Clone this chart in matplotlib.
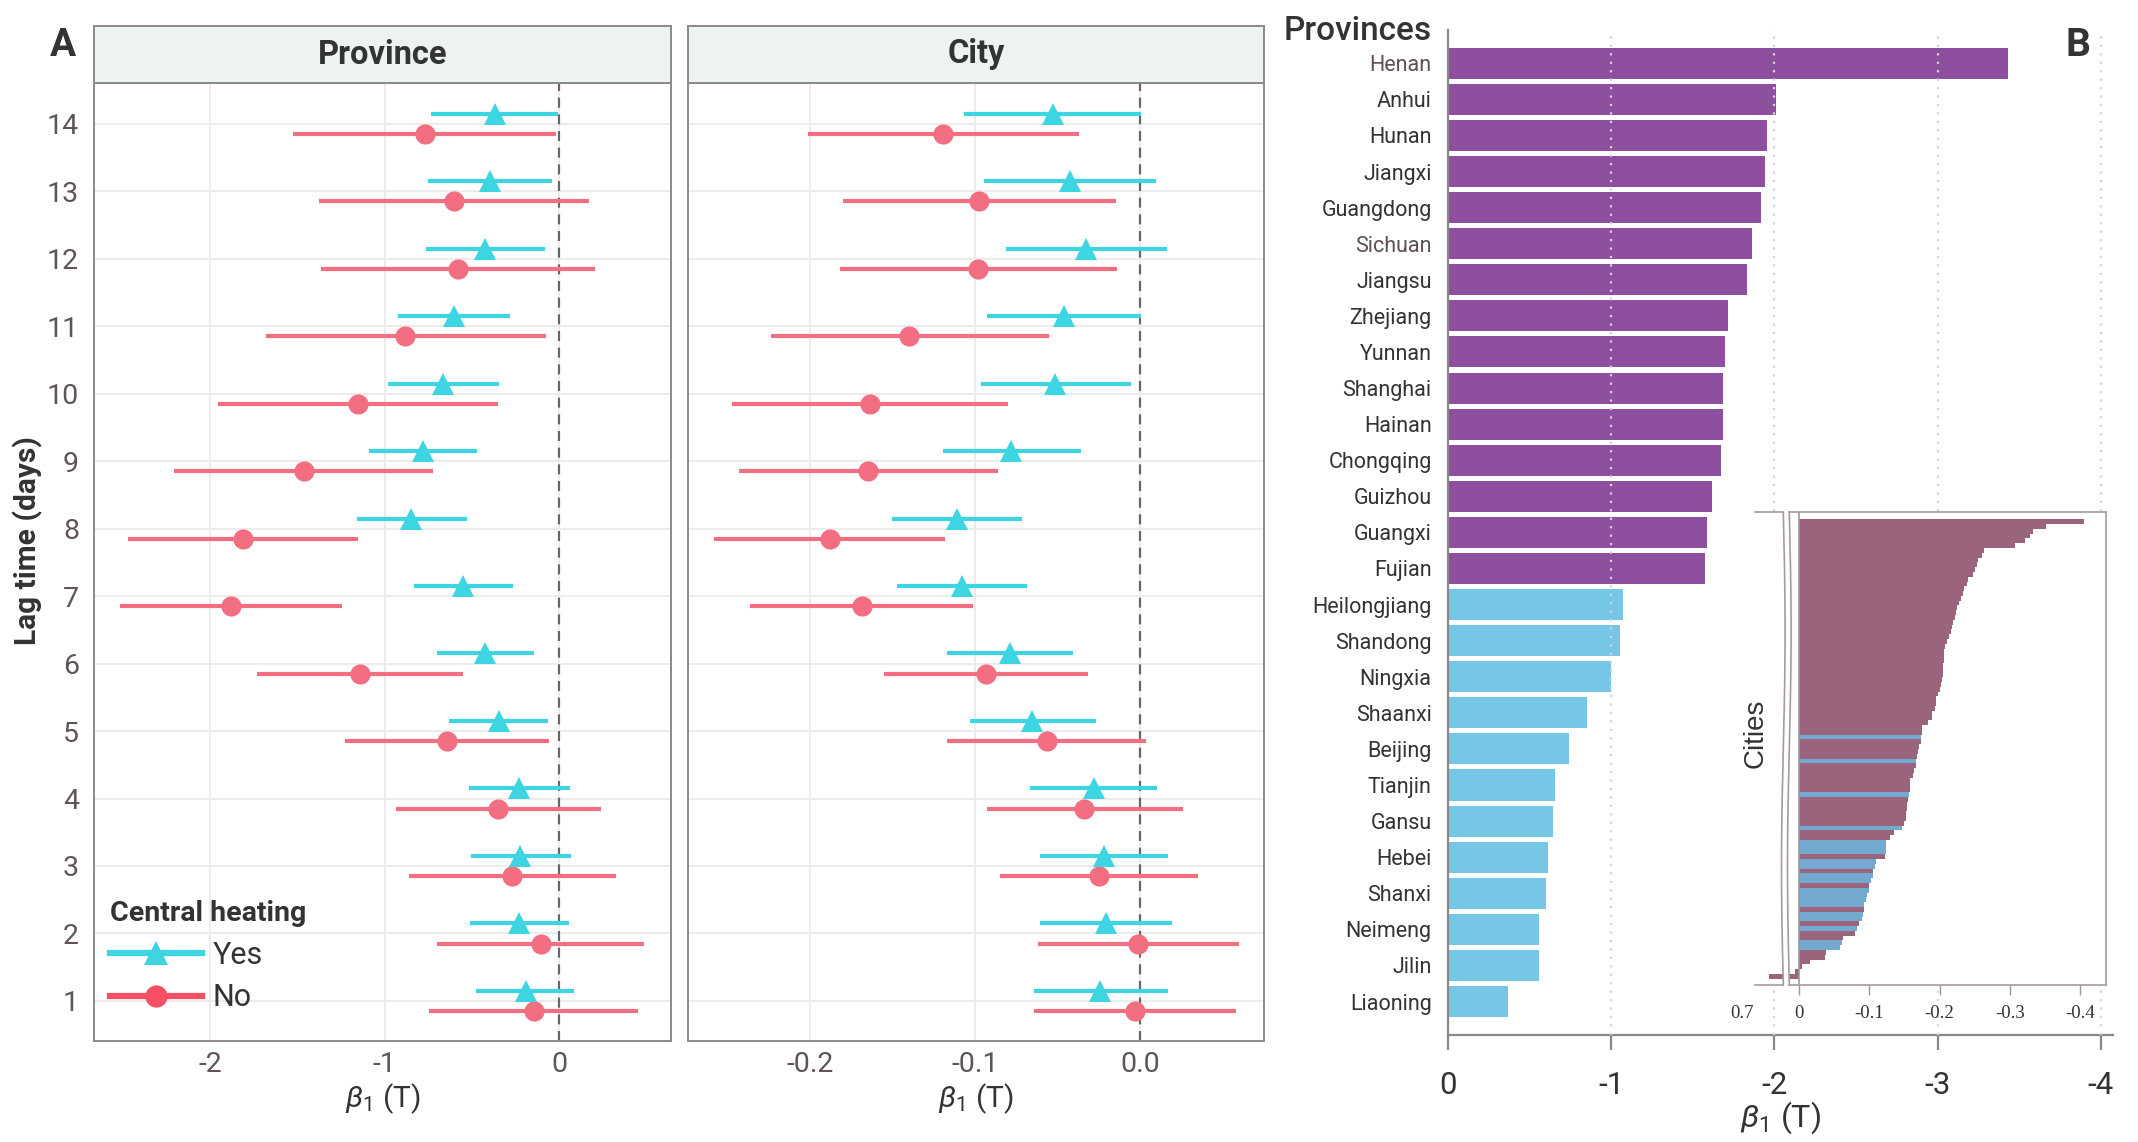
import numpy as np
import matplotlib
matplotlib.use('Agg')
import matplotlib.pyplot as plt
from matplotlib.lines import Line2D
import matplotlib.transforms as mtrans

plt.rcParams['font.family'] = ['Roboto', 'DejaVu Sans']
plt.rcParams['axes.unicode_minus'] = False
plt.rcParams['mathtext.fontset'] = 'custom'
plt.rcParams['mathtext.rm'] = 'Roboto'
plt.rcParams['mathtext.it'] = 'Roboto:italic'
plt.rcParams['mathtext.bf'] = 'Roboto:bold'

# ---- data: panel A (lag 1..14) ----
lags = np.arange(1, 15)

prov_yes_est = [-0.192, -0.230, -0.223, -0.230, -0.346, -0.423, -0.548, -0.848, -0.781, -0.663, -0.602, -0.425, -0.397, -0.369]
prov_yes_lo = [-0.476, -0.510, -0.507, -0.515, -0.633, -0.702, -0.832, -1.160, -1.088, -0.978, -0.924, -0.763, -0.753, -0.735]
prov_yes_hi = [0.087, 0.056, 0.067, 0.061, -0.064, -0.141, -0.266, -0.530, -0.471, -0.343, -0.279, -0.082, -0.038, -0.005]
prov_no_est = [-0.146, -0.105, -0.269, -0.348, -0.645, -1.142, -1.882, -1.813, -1.465, -1.155, -0.881, -0.581, -0.604, -0.771]
prov_no_lo = [-0.743, -0.702, -0.863, -0.937, -1.229, -1.729, -2.515, -2.471, -2.207, -1.956, -1.680, -1.367, -1.378, -1.524]
prov_no_hi = [0.451, 0.489, 0.325, 0.238, -0.056, -0.551, -1.245, -1.150, -0.720, -0.348, -0.077, 0.207, 0.169, -0.015]

city_yes_est = [-0.0240, -0.0206, -0.0220, -0.0280, -0.0654, -0.0788, -0.1080, -0.1111, -0.0778, -0.0513, -0.0462, -0.0326, -0.0424, -0.0527]
city_yes_lo = [-0.0642, -0.0604, -0.0608, -0.0663, -0.1032, -0.1169, -0.1473, -0.1504, -0.1193, -0.0965, -0.0927, -0.0812, -0.0946, -0.1063]
city_yes_hi = [0.0168, 0.0192, 0.0168, 0.0105, -0.0266, -0.0405, -0.0683, -0.0714, -0.0359, -0.0053, 0.0007, 0.0165, 0.0098, 0.0007]
city_no_est = [-0.0031, -0.0012, -0.0249, -0.0338, -0.0563, -0.0934, -0.1686, -0.1878, -0.1646, -0.1636, -0.1396, -0.0980, -0.0975, -0.1190]
city_no_lo = [-0.0644, -0.0620, -0.0850, -0.0929, -0.1166, -0.1550, -0.2364, -0.2577, -0.2429, -0.2472, -0.2232, -0.1816, -0.1801, -0.2010]
city_no_hi = [0.0582, 0.0599, 0.0354, 0.0261, 0.0036, -0.0316, -0.1011, -0.1178, -0.0862, -0.0800, -0.0553, -0.0141, -0.0144, -0.0366]

# ---- data: panel B ----
prov_names = ['Henan', 'Anhui', 'Hunan', 'Jiangxi', 'Guangdong', 'Sichuan', 'Jiangsu', 'Zhejiang',
              'Yunnan', 'Shanghai', 'Hainan', 'Chongqing', 'Guizhou', 'Guangxi', 'Fujian',
              'Heilongjiang', 'Shandong', 'Ningxia', 'Shaanxi', 'Beijing', 'Tianjin', 'Gansu',
              'Hebei', 'Shanxi', 'Neimeng', 'Jilin', 'Liaoning']
prov_vals = [-3.428, -2.012, -1.958, -1.945, -1.918, -1.861, -1.834, -1.714, -1.700, -1.687, -1.687,
             -1.674, -1.617, -1.590, -1.577, -1.071, -1.054, -0.997, -0.850, -0.740, -0.659, -0.646,
             -0.617, -0.603, -0.562, -0.562, -0.370]
n_no_heating = 15

city_vals = [-0.405, -0.352, -0.333, -0.329, -0.322, -0.307,
             -0.263, -0.260, -0.254, -0.253, -0.251, -0.248, -0.241, -0.239, -0.235, -0.233,
             -0.230, -0.227, -0.225, -0.224, -0.222, -0.219, -0.217, -0.216, -0.213, -0.211,
             -0.208, -0.2065, -0.206, -0.2058, -0.2055, -0.2052, -0.205, -0.204, -0.202, -0.200,
             -0.197, -0.195, -0.1948, -0.193, -0.189, -0.1885, -0.184, -0.1755, -0.175,
             -0.174, -0.173, -0.171, -0.169, -0.1685, -0.167, -0.166, -0.164, -0.162,
             -0.158, -0.1578, -0.1575, -0.157, -0.155, -0.154, -0.1535, -0.152, -0.1515, -0.150,
             -0.147, -0.135, -0.129, -0.124, -0.1238, -0.1235, -0.122,
             -0.110, -0.108, -0.105, -0.1048, -0.102, -0.100, -0.099, -0.097, -0.095, -0.093,
             -0.092, -0.091, -0.089, -0.085, -0.083, -0.080, -0.063, -0.061, -0.059, -0.038,
             -0.0375, -0.016, -0.004, 0.005, 0.70]
city_heating_idx = [45, 50, 57, 64, 67, 68, 69, 71, 72, 74, 75, 77, 78, 79, 80, 82, 83, 85, 88, 89]

CYAN = '#3ED5E3'
RED = '#F26E80'
RED_LEG = '#F44F63'
PURPLE = '#8E4F9E'
LBLUE = '#76C7E6'
C_MAUVE = '#9B647D'
C_BLUE = '#74A9CF'
BORDER = '#8a8a8a'
TICKC = '#5F5555'

W, H = 2138, 1142
fig = plt.figure(figsize=(W / 100, H / 100), dpi=100)


def box(x0, y0, x1, y1):
    return [x0 / W, 1 - y1 / H, (x1 - x0) / W, (y1 - y0) / H]


# ================= panel A =================
panels = [
    ('Province', 94.2, 671.0, (-2.665, 0.642), [-2, -1, 0], ['-2', '-1', '0'],
     (prov_yes_est, prov_yes_lo, prov_yes_hi, prov_no_est, prov_no_lo, prov_no_hi)),
    ('City', 687.9, 1264.4, (-0.2738, 0.0754), [-0.2, -0.1, 0.0], ['-0.2', '-0.1', '0.0'],
     (city_yes_est, city_yes_lo, city_yes_hi, city_no_est, city_no_lo, city_no_hi)),
]
axes_a = []
for i, (title, x0, x1, xlim, xt, xtl, d) in enumerate(panels):
    ax = fig.add_axes(box(x0, 83.4, x1, 1041.4))
    axes_a.append(ax)
    ye, yl, yh, ne, nl, nh = [np.array(v) for v in d]
    ax.errorbar(ne, lags - 0.15, xerr=[ne - nl, nh - ne], fmt='o', color=RED, ms=14.5,
                elinewidth=3, capsize=0, mew=0, zorder=3)
    ax.errorbar(ye, lags + 0.15, xerr=[ye - yl, yh - ye], fmt='^', color=CYAN, ms=16,
                elinewidth=3, capsize=0, mew=0, zorder=4)
    ax.axvline(0, color='#666666', lw=1.6, ls=(0, (4.5, 3)), zorder=2)
    ax.set_xlim(*xlim)
    ax.set_ylim(0.4, 14.6)
    ax.set_xticks(xt, xtl)
    ax.set_yticks(lags)
    ax.grid(True, color='#EBEBEB', lw=1.3, zorder=0)
    ax.set_axisbelow(True)
    ax.tick_params(length=0, labelsize=20.5, labelcolor=TICKC)
    ax.tick_params(axis='x', pad=7)
    ax.tick_params(axis='y', pad=11)
    if i > 0:
        ax.set_yticklabels([])
    for s in ax.spines.values():
        s.set_color(BORDER)
        s.set_linewidth(1.4)
    ax.set_xlabel(r'$\beta_1$ (T)', fontsize=21.5, color='#333333', labelpad=2)
    # facet strip
    st = fig.add_axes(box(x0, 25.6, x1, 83.4))
    st.set_facecolor('#EDF3F0')
    st.set_xticks([])
    st.set_yticks([])
    for s in st.spines.values():
        s.set_color(BORDER)
        s.set_linewidth(1.4)
    st.text(0.5, 0.5, title, ha='center', va='center', fontsize=23.5, fontweight='bold',
            color='#333333', transform=st.transAxes)

axes_a[0].set_ylabel('Lag time (days)', fontsize=21.5, fontweight='bold', color='#333333')
axes_a[0].yaxis.set_label_coords(-0.089, 0.523)

handles = [Line2D([0], [0], color=CYAN, lw=4.5, marker='^', ms=17, mew=0),
           Line2D([0], [0], color=RED_LEG, lw=4.5, marker='o', ms=16, mew=0)]
leg = axes_a[0].legend(handles, ['Yes', 'No'], title='Central heating', loc='upper left',
                       bbox_to_anchor=(110 / W, 1 - 900 / H), bbox_transform=fig.transFigure,
                       frameon=False, fontsize=22, handlelength=3.0, handletextpad=0.35,
                       labelspacing=0.45, borderpad=0, borderaxespad=0, alignment='left',
                       title_fontproperties={'weight': 'bold', 'size': 20.5})
leg.get_title().set_color('#333333')
for t in leg.get_texts():
    t.set_color('#333333')

fig.text(62.5 / W, 1 - 46 / H, 'A', fontsize=28, fontweight='bold', ha='center', va='center', color='#333333')

# ================= panel B =================
axb = fig.add_axes(box(1447.7, 30, 2113, 1034.7))
ypos = np.arange(len(prov_names))
bar_cols = [PURPLE if k < n_no_heating else LBLUE for k in range(len(prov_names))]
axb.barh(ypos, prov_vals, height=0.86, color=bar_cols, zorder=2)
for g in [-1, -2, -3, -4]:
    axb.axvline(g, color='#d4d4d4', lw=1.6, ls=(0, (1, 2.8)), zorder=3)
axb.set_xlim(0, -4.074)
axb.set_ylim(26.92, -0.923)
axb.set_yticks(ypos, prov_names)
axb.set_xticks([0, -1, -2, -3, -4], ['0', '-1', '-2', '-3', '-4'])
axb.tick_params(axis='y', length=0, pad=11.5, labelsize=15.5, labelcolor='#333333')
axb.tick_params(axis='x', length=11, width=1.6, color='#888888', pad=15, labelsize=22.5, labelcolor='#333333')
for lab in axb.get_yticklabels():
    if lab.get_text() in ('Henan', 'Sichuan'):
        lab.set_color('#5E5050')
for s in ['top', 'right']:
    axb.spines[s].set_visible(False)
for s in ['left', 'bottom']:
    axb.spines[s].set_color('#888888')
    axb.spines[s].set_linewidth(1.6)
axb.set_xlabel(r'$\beta_1$ (T)', fontsize=23, color='#333333', labelpad=0)

fig.text(1432 / W, 1 - 31 / H, 'Provinces', fontsize=24, fontweight='medium', ha='right', va='center', color='#333333')
fig.text(2078 / W, 1 - 46 / H, 'B', fontsize=28, fontweight='bold', ha='center', va='center', color='#333333')

# ---- inset: cities with axis break ----
FR = '#A59B9B'
cidx = np.arange(len(city_vals))
ccols = [C_BLUE if k in city_heating_idx else C_MAUVE for k in cidx]

axl = fig.add_axes(box(1755, 512.3, 1783.3, 985.3), zorder=5)
axi = fig.add_axes(box(1789.3, 512.3, 2106.3, 985.3), zorder=5)
for a in (axl, axi):
    a.set_facecolor('white')
    a.barh(cidx, city_vals, height=1.02, color=ccols, linewidth=0)
    a.set_ylim(96.88, -1.963)
    a.set_yticks([])
    for s in a.spines.values():
        s.set_color(FR)
        s.set_linewidth(1.2)
axl.set_xlim(0.75, 0.65)
axl.spines['left'].set_visible(False)
axl.spines['right'].set_visible(False)
axl.set_xticks([0.7], ['0.7'])
axl.tick_params(axis='x', length=0, pad=14, labelsize=13.5, labelcolor='#333333')
for lab in axl.get_xticklabels():
    lab.set_fontfamily('Liberation Serif')
    lab.set_transform(lab.get_transform() + mtrans.ScaledTranslation(-0.27, 0, fig.dpi_scale_trans))

axi.set_xlim(0.0138, -0.4371)
axi.axvline(0, color='#9a9a9a', lw=1.2)
axi.spines['left'].set_visible(False)
axi.set_xticks([0, -0.1, -0.2, -0.3, -0.4], ['0', '-0.1', '-0.2', '-0.3', '-0.4'])
axi.tick_params(axis='x', length=7, width=1.0, color='#999999', pad=7, labelsize=13.5, labelcolor='#333333')
for lab in axi.get_xticklabels():
    lab.set_fontfamily('Liberation Serif')

# wavy break marks
yy = np.linspace(512.3, 985.3, 200)
for xc in (1783.3, 1789.3):
    xx = xc + 1.8 * np.sin((yy - 512.3) / 473 * 2 * np.pi)
    fig.add_artist(Line2D(xx / W, 1 - yy / H, color=FR, lw=1.2, transform=fig.transFigure, zorder=6))

fig.text(1756 / W, 1 - 733 / H, 'Cities', rotation=90, fontsize=20, ha='center', va='center',
         family='Liberation Sans', color='#333333', zorder=7)

fig.savefig('out.png', dpi=100, facecolor='white')
